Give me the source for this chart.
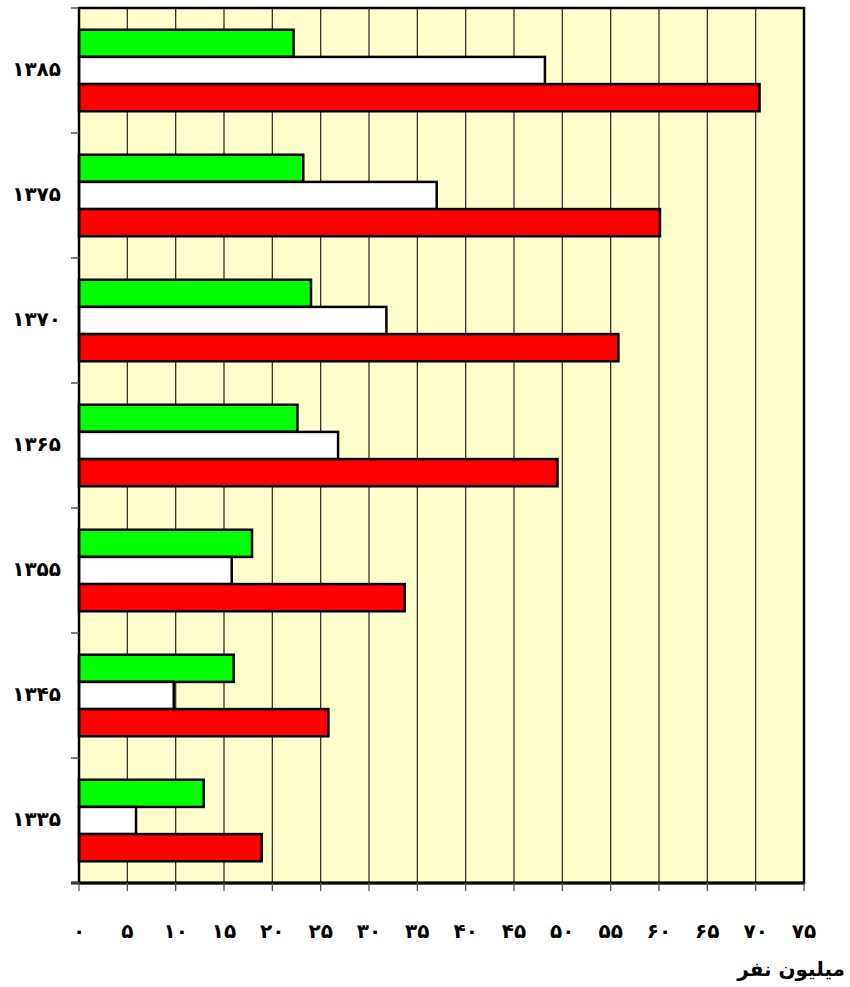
<!DOCTYPE html>
<html lang="fa">
  <head>
    <meta charset="UTF-8" />
    <title>جمعیت</title>
    <style>
      body {
        margin: 0;
        background: #fff;
      }
      text {
        font-family: "DejaVu Sans", sans-serif;
        font-weight: bold;
      }
    </style>
  </head>

  <body>
    <script src="https://cdn.jsdelivr.net/npm/d3@7"></script>
    <script>
      // سال‌ها از بالا به پایین
      const sal_ha = ["۱۳۸۵", "۱۳۷۵", "۱۳۷۰", "۱۳۶۵", "۱۳۵۵", "۱۳۴۵", "۱۳۳۵"];
      const sabz = [22.2, 23.2, 24.0, 22.6, 17.9, 16.0, 12.9];
      const sefid = [48.2, 37.0, 31.8, 26.8, 15.8, 9.8, 5.9];
      const ghermez = [70.4, 60.1, 55.8, 49.5, 33.7, 25.8, 18.9];
      const seri_ha = ["sabz", "sefid", "ghermez"];
      const rang_ha = ["#00ff00", "#ffffff", "#ff0000"];
      const tick_ha = [0, 5, 10, 15, 20, 25, 30, 35, 40, 45, 50, 55, 60, 65, 70, 75];
      const tick_label_ha = ["۰", "۵", "۱۰", "۱۵", "۲۰", "۲۵", "۳۰", "۳۵", "۴۰", "۴۵", "۵۰", "۵۵", "۶۰", "۶۵", "۷۰", "۷۵"];
      const onvan_x = "میلیون نفر";

      const width = 850,
        height = 987;
      const margin = { top: 8, right: 46, bottom: 104, left: 79 };

      const svg = d3
        .select("body")
        .append("svg")
        .attr("width", width)
        .attr("height", height);

      const x = d3
        .scaleLinear()
        .domain([0, 75])
        .range([margin.left, width - margin.right]);

      const y = d3
        .scaleBand()
        .domain(sal_ha)
        .range([margin.top, height - margin.bottom])
        .padding(0);

      const y1 = d3
        .scaleBand()
        .domain(seri_ha)
        .range([0, y.bandwidth()])
        .paddingInner(0)
        .paddingOuter(0.8);

      // زمینه
      svg
        .append("rect")
        .attr("x", x(0))
        .attr("y", margin.top)
        .attr("width", x(75) - x(0))
        .attr("height", y.range()[1] - margin.top)
        .attr("fill", "#ffffcc");

      // خطوط شبکه
      svg
        .append("g")
        .selectAll("line")
        .data(tick_ha.slice(1, -1))
        .join("line")
        .attr("x1", (d) => x(d))
        .attr("x2", (d) => x(d))
        .attr("y1", margin.top)
        .attr("y2", y.range()[1])
        .attr("stroke", "#333")
        .attr("stroke-width", 1.3);

      // میله‌ها
      const dadeh = sal_ha.map((s, i) => ({
        sal: s,
        sabz: sabz[i],
        sefid: sefid[i],
        ghermez: ghermez[i],
      }));

      const goroh = svg
        .append("g")
        .selectAll("g")
        .data(dadeh)
        .join("g")
        .attr("transform", (d) => `translate(0,${y(d.sal)})`);

      goroh
        .selectAll("rect")
        .data((d) => seri_ha.map((k, j) => ({ key: k, value: d[k], rang: rang_ha[j] })))
        .join("rect")
        .attr("x", x(0))
        .attr("y", (d) => y1(d.key))
        .attr("width", (d) => x(d.value) - x(0))
        .attr("height", y1.bandwidth())
        .attr("fill", (d) => d.rang)
        .attr("stroke", "#000")
        .attr("stroke-width", 2.5);

      // قاب
      svg
        .append("rect")
        .attr("x", x(0))
        .attr("y", margin.top)
        .attr("width", x(75) - x(0))
        .attr("height", y.range()[1] - margin.top)
        .attr("fill", "none")
        .attr("stroke", "#000")
        .attr("stroke-width", 2.5);

      // محور افقی
      const paeen = y.range()[1];
      svg
        .append("line")
        .attr("x1", x(0) - 8)
        .attr("x2", x(75))
        .attr("y1", paeen)
        .attr("y2", paeen)
        .attr("stroke", "#000")
        .attr("stroke-width", 3);

      svg
        .append("g")
        .selectAll("line")
        .data(tick_ha)
        .join("line")
        .attr("x1", (d) => x(d))
        .attr("x2", (d) => x(d))
        .attr("y1", paeen)
        .attr("y2", paeen + 8)
        .attr("stroke", "#555")
        .attr("stroke-width", 1.3);

      svg
        .append("g")
        .selectAll("text")
        .data(tick_ha)
        .join("text")
        .attr("x", (d) => x(d))
        .attr("y", paeen + 49)
        .attr("text-anchor", "middle")
        .attr("dominant-baseline", "middle")
        .attr("font-size", 20)
        .text((d, i) => tick_label_ha[i]);

      svg
        .append("text")
        .attr("x", 845)
        .attr("y", 970)
        .attr("text-anchor", "end")
        .attr("dominant-baseline", "middle")
        .attr("font-size", 20)
        .text(onvan_x);

      // محور عمودی
      const marz_ha = sal_ha.map((s) => y(s)).concat([paeen]);
      svg
        .append("g")
        .selectAll("line")
        .data(marz_ha)
        .join("line")
        .attr("x1", x(0) - 8)
        .attr("x2", x(0))
        .attr("y1", (d) => d)
        .attr("y2", (d) => d)
        .attr("stroke", "#555")
        .attr("stroke-width", 1.5);

      svg
        .append("g")
        .selectAll("text")
        .data(sal_ha)
        .join("text")
        .attr("x", 61)
        .attr("y", (d) => y(d) + y.bandwidth() / 2)
        .attr("text-anchor", "end")
        .attr("dominant-baseline", "middle")
        .attr("font-size", 20)
        .text((d) => d);
    </script>
  </body>
</html>
